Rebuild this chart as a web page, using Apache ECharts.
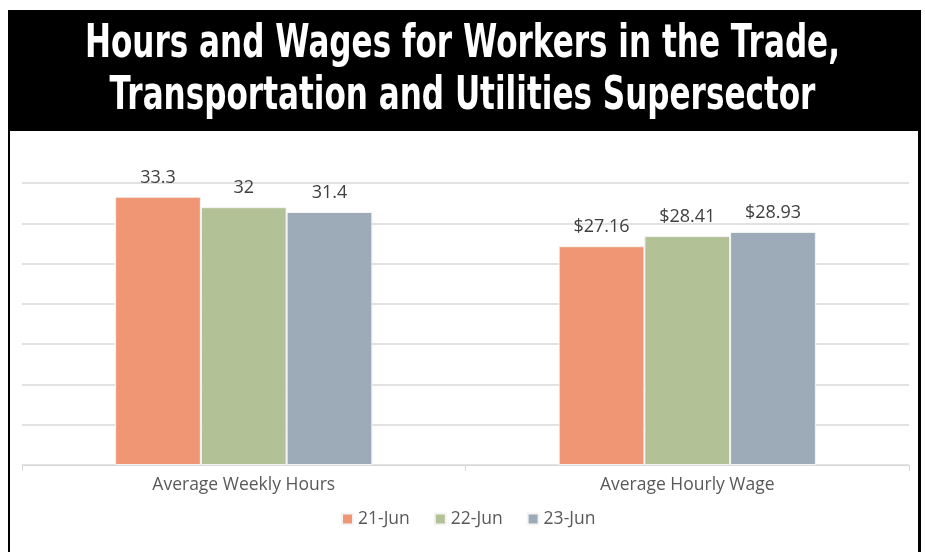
<!DOCTYPE html>
<html>
<head>
<meta charset="utf-8">
<script src="https://cdn.jsdelivr.net/npm/echarts@6/dist/echarts.min.js"></script>
<style>
  html, body { margin: 0; padding: 0; background: #fff; }
  .frame { position: absolute; left: 8px; top: 10px; width: 913px; height: 560px; background: #000; }
  .inner { position: absolute; left: 10px; top: 131px; width: 908px; height: 440px; background: #fff; }
  #main { position: absolute; left: 0; top: 0; width: 925px; height: 552px; }
</style>
</head>
<body>
<div class="frame"></div>
<div class="inner"></div>
<div id="main"></div>
<script>
// categories and series values
const categories = ['Average Weekly Hours', 'Average Hourly Wage']
const seriesNames = ['21-Jun', '22-Jun', '23-Jun']
const jun21 = [33.3, 27.16]
const jun22 = [32, 28.41]
const jun23 = [31.4, 28.93]
const colors = ['#F19675', '#B3C196', '#9DAAB7']
const titleLines = ['Hours and Wages for Workers in the Trade,', 'Transportation and Utilities Supersector']

const chart = echarts.init(document.getElementById('main'))

// the title font is a condensed one, squeeze a bold sans to the same width
const titleFont = 'bold 46px "DejaVu Sans", sans-serif'
const ctx = document.createElement('canvas').getContext('2d')
ctx.font = titleFont
const squeeze = 755 / ctx.measureText(titleLines[0]).width

function fmt (p) {
  // wage category shows dollars
  return p.dataIndex === 1 ? '$' + p.value.toFixed(2) : String(p.value)
}

function makeSeries (name, data, color) {
  return {
    name: name,
    type: 'bar',
    data: data,
    barGap: 0,
    barCategoryGap: '42%',
    itemStyle: { color: color, borderColor: '#f4f4f4', borderWidth: 1 },
    label: {
      show: true,
      position: 'top',
      distance: 10,
      formatter: fmt,
      fontFamily: 'Open Sans, sans-serif',
      fontSize: 18,
      color: '#404040'
    }
  }
}

chart.setOption({
  backgroundColor: 'transparent',
  animation: false,
  color: colors,
  graphic: titleLines.map((t, i) => ({
    type: 'text',
    x: 462.5,
    y: 45 + i * 52,
    scaleX: squeeze,
    style: {
      text: t,
      font: titleFont,
      fill: '#fff',
      align: 'center',
      verticalAlign: 'middle'
    }
  })),
  grid: { left: 22, right: 16, top: 183, bottom: 87 },
  legend: {
    data: seriesNames,
    top: 505,
    left: 336,
    icon: 'rect',
    itemWidth: 11,
    itemHeight: 11,
    itemGap: 24,
    textStyle: { fontFamily: 'Open Sans, sans-serif', fontSize: 17.5, color: '#595959' }
  },
  xAxis: {
    type: 'category',
    data: categories,
    axisLine: { lineStyle: { color: '#d9d9d9' } },
    axisTick: { show: true, length: 6, lineStyle: { color: '#d9d9d9' } },
    axisLabel: { margin: 11, fontFamily: 'Open Sans, sans-serif', fontSize: 17.5, color: '#595959' }
  },
  yAxis: {
    type: 'value',
    min: 0,
    max: 35,
    interval: 5,
    axisLabel: { show: false },
    axisLine: { show: false },
    axisTick: { show: false },
    splitLine: { lineStyle: { color: '#d9d9d9', width: 1.5 } }
  },
  series: [
    makeSeries(seriesNames[0], jun21, colors[0]),
    makeSeries(seriesNames[1], jun22, colors[1]),
    makeSeries(seriesNames[2], jun23, colors[2])
  ]
})
</script>
</body>
</html>
